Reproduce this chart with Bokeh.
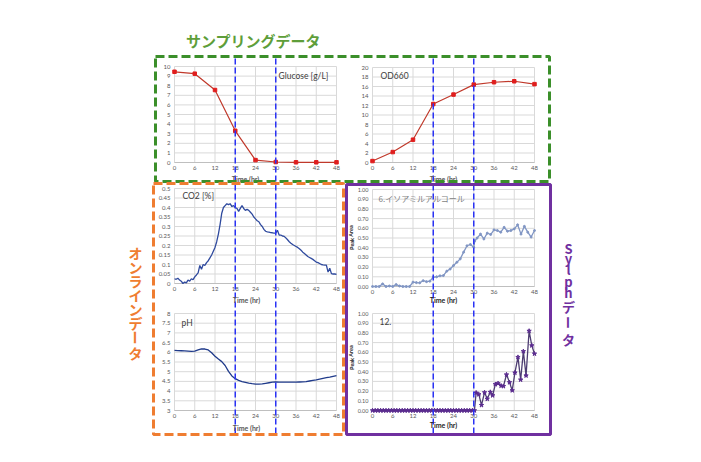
from bokeh.plotting import figure
from bokeh.models import Range1d
from bokeh.core.properties import value
from bokeh.embed import file_html
from bokeh.resources import INLINE

# ---------------- data ----------------
x_ticks = [0, 6, 12, 18, 24, 30, 36, 42, 48]
x_tick_labels = ["0", "6", "12", "18", "24", "30", "36", "42", "48"]
phase_marks = [18, 30]

sample_hours = [0, 6, 12, 18, 24, 30, 36, 42, 48]
glucose = [9.45, 9.25, 7.55, 3.3, 0.25, 0.05, 0.02, 0.02, 0.02]
od660 = [0.3, 2.2, 4.8, 12.3, 14.3, 16.4, 16.9, 17.1, 16.5]

co2_hours = [0.0, 0.5, 1.0, 1.5, 2.0, 2.5, 3.0, 3.5, 4.0, 4.5, 5.0, 5.5, 6.0, 6.5, 7.0, 7.5,
             8.0, 8.5, 9.0, 9.5, 10.0, 10.5, 11.0, 11.5, 12.0, 12.5, 13.0, 13.5, 14.0, 14.5,
             15.0, 15.5, 16.0, 16.5, 17.0, 17.5, 18.0, 18.5, 19.0, 19.5, 20.0, 20.5, 21.0,
             21.5, 22.0, 22.5, 23.0, 23.5, 24.0, 24.5, 25.0, 25.5, 26.0, 26.5, 27.0, 27.5,
             28.0, 28.5, 29.0, 29.5, 30.0, 30.5, 31.0, 31.5, 32.0, 32.5, 33.0, 33.5, 34.0,
             34.5, 35.0, 35.5, 36.0, 36.5, 37.0, 37.5, 38.0, 38.5, 39.0, 39.5, 40.0, 40.5,
             41.0, 41.5, 42.0, 42.5, 43.0, 43.5, 44.0, 44.5, 45.0, 45.5, 46.0, 46.5, 47.0,
             47.5, 48.0]
co2 = [0.025, 0.022, 0.028, 0.018, 0.012, 0.0, 0.008, 0.003, 0.018, 0.012, 0.025, 0.02,
       0.035, 0.045, 0.056, 0.095, 0.075, 0.1, 0.095, 0.11, 0.12, 0.135, 0.15, 0.17, 0.19,
       0.22, 0.26, 0.31, 0.37, 0.4, 0.41, 0.42, 0.415, 0.42, 0.405, 0.41, 0.4, 0.395, 0.38,
       0.395, 0.41, 0.395, 0.385, 0.39, 0.385, 0.375, 0.365, 0.35, 0.34, 0.33, 0.325, 0.31,
       0.3, 0.285, 0.275, 0.272, 0.27, 0.268, 0.267, 0.265, 0.265, 0.28, 0.255, 0.255, 0.25,
       0.248, 0.24, 0.23, 0.22, 0.212, 0.205, 0.2, 0.195, 0.19, 0.183, 0.175, 0.165, 0.158,
       0.15, 0.142, 0.137, 0.132, 0.127, 0.12, 0.113, 0.11, 0.105, 0.1, 0.098, 0.097, 0.097,
       0.06, 0.08, 0.052, 0.05, 0.05, 0.048]

ph_hours = [0, 1, 2, 3, 4, 5, 6, 7, 8, 9, 10, 11, 12, 13, 14, 15, 16, 17, 18, 19, 20, 21, 22,
            23, 24, 25, 26, 27, 28, 29, 30, 31, 32, 33, 34, 35, 36, 37, 38, 39, 40, 41, 42,
            43, 44, 45, 46, 47, 48]
ph = [6.1, 6.09, 6.08, 6.07, 6.06, 6.05, 6.06, 6.12, 6.18, 6.17, 6.12, 5.98, 5.8, 5.65,
      5.52, 5.32, 5.02, 4.78, 4.64, 4.55, 4.49, 4.45, 4.41, 4.38, 4.36, 4.36, 4.37, 4.4,
      4.43, 4.46, 4.47, 4.46, 4.46, 4.46, 4.46, 4.46, 4.46, 4.47, 4.48, 4.49, 4.52, 4.55,
      4.58, 4.62, 4.66, 4.69, 4.72, 4.76, 4.8]

iso_hours = [0, 1, 2, 3, 4, 5, 6, 7, 8, 9, 10, 11, 12, 13, 14, 15, 16, 17, 18, 19, 20, 21,
             22, 23, 24, 25, 26, 27, 28, 29, 30, 30.3, 31, 32, 33, 34, 35, 36, 37, 38, 39, 40,
             41, 42, 43, 44, 45, 46, 47, 48]
isoamyl = [0.0, 0.0, 0.0, 0.027, 0.0, 0.005, 0.0, 0.02, 0.005, 0.0, 0.0, 0.0, 0.045, 0.04,
           0.038, 0.06, 0.05, 0.055, 0.096, 0.1, 0.11, 0.113, 0.158, 0.18, 0.216, 0.25, 0.285,
           0.354, 0.42, 0.433, 0.405, 0.47, 0.5, 0.54, 0.49, 0.55, 0.536, 0.584, 0.577, 0.56,
           0.61, 0.57, 0.577, 0.594, 0.636, 0.54, 0.62, 0.56, 0.51, 0.577]

c12_hours = [0.0, 0.8, 1.6, 2.4, 3.2, 4.0, 4.8, 5.6, 6.4, 7.2, 8.0, 8.8, 9.6, 10.4, 11.2,
             12.0, 12.8, 13.6, 14.4, 15.2, 16.0, 16.8, 17.6, 18.4, 19.2, 20.0, 20.8, 21.6,
             22.4, 23.2, 24.0, 24.8, 25.6, 26.4, 27.2, 28.0, 28.8, 29.6, 30.2, 30.7, 31.5,
             32.3, 33.2, 34.0, 34.9, 35.6, 36.4, 37.2, 38.1, 38.8, 39.7, 40.6, 41.4, 42.2,
             43.1, 43.9, 44.7, 45.5, 46.4, 47.2, 48.0]
c12 = [0.0, 0.0, 0.0, 0.0, 0.0, 0.0, 0.0, 0.0, 0.0, 0.0, 0.0, 0.0, 0.0, 0.0, 0.0, 0.0, 0.0,
       0.0, 0.0, 0.0, 0.0, 0.0, 0.0, 0.0, 0.0, 0.0, 0.0, 0.0, 0.0, 0.0, 0.0, 0.0, 0.0, 0.0,
       0.0, 0.0, 0.0, 0.0, 0.0, 0.183, 0.166, 0.055, 0.186, 0.12, 0.19, 0.155, 0.27, 0.28,
       0.255, 0.25, 0.37, 0.29, 0.207, 0.39, 0.55, 0.317, 0.61, 0.36, 0.82, 0.67, 0.585]

glucose_yticks = [0, 1, 2, 3, 4, 5, 6, 7, 8, 9, 10]
glucose_ylabels = ["0", "1", "2", "3", "4", "5", "6", "7", "8", "9", "10"]
od_yticks = [0, 2, 4, 6, 8, 10, 12, 14, 16, 18, 20]
od_ylabels = ["0", "2", "4", "6", "8", "10", "12", "14", "16", "18", "20"]
co2_yticks = [0, 0.05, 0.1, 0.15, 0.2, 0.25, 0.3, 0.35, 0.4, 0.45, 0.5]
co2_ylabels = ["0", "0.05", "0.1", "0.15", "0.2", "0.25", "0.3", "0.35", "0.4", "0.45", "0.5"]
ph_yticks = [3, 3.5, 4, 4.5, 5, 5.5, 6, 6.5, 7, 7.5, 8]
ph_ylabels = ["3", "3.5", "4", "4.5", "5", "5.5", "6", "6.5", "7", "7.5", "8"]
syph_yticks = [0, 0.1, 0.2, 0.3, 0.4, 0.5, 0.6, 0.7, 0.8, 0.9, 1.0]
syph_ylabels = ["0.00", "0.10", "0.20", "0.30", "0.40", "0.50", "0.60", "0.70", "0.80", "0.90", "1.00"]

title_text = "サンプリングデータ"
online_text = "オンラインデータ"
sylph_text = "Sylphデータ"

# ---------------- canvas ----------------
W, H = 685, 446


def Y(img_y):
    return 462 - img_y


p = figure(width=W, height=H, x_range=Range1d(0, W), y_range=Range1d(462 - H, 462),
           output_backend="svg", toolbar_location=None,
           x_axis_location=None, y_axis_location=None, min_border=0)
p.outline_line_color = None
p.background_fill_color = "white"
p.border_fill_color = "white"
p.xgrid.visible = False
p.ygrid.visible = False

FONT = value("Lato")
JP = value("Noto Sans CJK JP")
GRID = "#d9d9d9"
TICK = "#595959"


def panel(x0, x1, ytop, ybot, ymin, ymax, yticks, ylabels, ytick_size="6px"):
    sub = p.subplot(x_source=Range1d(0, 48), y_source=Range1d(ymin, ymax),
                    x_target=Range1d(x0, x1), y_target=Range1d(Y(ybot), Y(ytop)))
    sub.segment(x0=x_ticks, y0=ymin, x1=x_ticks, y1=ymax, line_color=GRID, line_width=1)
    sub.segment(x0=0, y0=yticks, x1=48, y1=yticks, line_color=GRID, line_width=1)
    sub.segment(x0=[0], y0=[ymin], x1=[48], y1=[ymin], line_color="#bfbfbf", line_width=1)
    sub.text(x=x_ticks, y=ymin, text=x_tick_labels, y_offset=3, text_align="center",
             text_baseline="top", text_font=FONT, text_font_size="6px", text_color=TICK)
    sub.text(x=0, y=yticks, text=ylabels, x_offset=-4, text_align="right",
             text_baseline="middle", text_font=FONT, text_font_size=ytick_size, text_color=TICK)
    return sub


def inv(ytop, ybot, ymin, ymax, img_y):
    return ymin + (ybot - img_y) / (ybot - ytop) * (ymax - ymin)


# top row: sampling data
g = panel(174, 336, 66, 162, 0, 10, glucose_yticks, glucose_ylabels)
g.line(sample_hours, glucose, line_color="#c0392b", line_width=1.2)
g.scatter(sample_hours, glucose, marker="square", size=3.5, fill_color="#e01e1e", line_color="#e01e1e")

o = panel(372, 534, 67, 162, 0, 20, od_yticks, od_ylabels)
o.line(sample_hours, od660, line_color="#c0392b", line_width=1.2)
o.scatter(sample_hours, od660, marker="square", size=3.5, fill_color="#e01e1e", line_color="#e01e1e")

# lower left: online data
c = panel(174, 336, 188, 283, 0, 0.5, co2_yticks, co2_ylabels)
c.line(co2_hours, co2, line_color="#2f4a9e", line_width=1.3)

h = panel(174, 336, 313, 410, 3, 8, ph_yticks, ph_ylabels)
h.line(ph_hours, ph, line_color="#1f3a8a", line_width=1.3)

# lower right: Sylph data
s5 = panel(372, 534, 189, 286, 0, 1, syph_yticks, syph_ylabels, "5.5px")
s5.line(iso_hours, isoamyl, line_color="#8196c4", line_width=1.3)
s5.scatter(iso_hours, isoamyl, marker="circle", size=2, fill_color="#8196c4", line_color="#8196c4")

s6 = panel(372, 534, 313, 410, 0, 1, syph_yticks, syph_ylabels, "5.5px")
s6.line(c12_hours, c12, line_color="#4d3d72", line_width=1.3)
s6.scatter(c12_hours, c12, marker="star", size=4.5, fill_color="#5b2c8f", line_color="#5b2c8f")

# phase lines (18 h and 30 h), spanning both rows
for sub, top in ((g, (66, 162, 0, 10)), (o, (67, 162, 0, 20))):
    y_hi = inv(*top, 55)
    y_lo = inv(*top, 433)
    sub.segment(x0=phase_marks, y0=y_lo, x1=phase_marks, y1=y_hi,
                line_color="#2a32f5", line_width=1.5, line_dash="6 3")


def label(x, y, txt, size="8.5px", color="#404040", font=FONT, align="left", style="normal", angle=0):
    p.text(x=[x], y=[Y(y)], text=[txt], text_font=font, text_font_size=size,
           text_color=color, text_align=align, text_baseline="middle",
           text_font_style=style, angle=angle)


# panel titles
label(278, 75, "Glucose [g/L]")
label(380, 75, "OD660")
label(182, 195, "CO2 [%]")
label(181, 322, "pH")
label(378, 198, "6.イソアミルアルコール", color="#7f7f7f", font=JP, size="8px")
label(379, 321, "12.", color="#404040")

# axis titles
label(245, 178, "Time (hr)", size="7px", color=TICK, align="center", style="bold")
label(443, 178, "Time (hr)", size="7px", color=TICK, align="center", style="bold")
label(246, 299, "Time (hr)", size="7px", color=TICK, align="center", style="bold")
label(246, 427, "Time (hr)", size="7px", color=TICK, align="center", style="bold")
label(443, 299, "Time (hr)", size="7px", color="#262626", align="center", style="bold")
label(443, 424, "Time (hr)", size="7px", color="#262626", align="center", style="bold")
label(351, 237, "Peak Area", size="5.5px", color="#262626", align="center", style="bold", angle=1.5708)
label(351, 357, "Peak Area", size="5.5px", color="#262626", align="center", style="bold", angle=1.5708)

# group boxes
p.quad(left=[155], right=[549], top=[Y(56)], bottom=[Y(181)], fill_color=None,
       line_color="#3b8f2a", line_width=3, line_dash="9 4")
p.quad(left=[153], right=[343], top=[Y(183)], bottom=[Y(434)], fill_color=None,
       line_color="#ef7d31", line_width=3, line_dash="9 4")
p.quad(left=[346], right=[550], top=[Y(184)], bottom=[Y(434)], fill_color=None,
       line_color="#7030a0", line_width=3)

# group titles
label(253, 40, title_text, size="15px", color="#5e9e3a", font=JP, align="center", style="bold")

online_y = [252, 266, 280, 294, 308, 322, 337, 352]
for ch, yy in zip(online_text, online_y):
    label(135, yy, ch, size="14px", color="#ef7d31", font=JP, align="center", style="bold",
          angle=(-1.5708 if ch == "ー" else 0))

sylph_y = [248, 258, 269, 281, 292, 306, 322, 339]
for ch, yy in zip(sylph_text, sylph_y):
    label(568, yy, ch, size="13px", color="#7030a0", font=JP, align="center", style="bold",
          angle=(-1.5708 if ch == "ー" else 0))

open("out.html", "w").write(file_html(p, INLINE))
